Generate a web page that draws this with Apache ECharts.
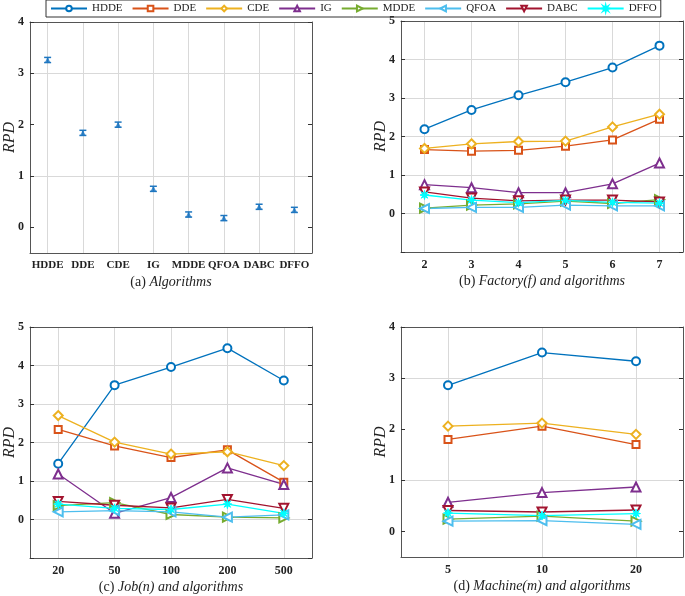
<!DOCTYPE html>
<html>
<head>
<meta charset="utf-8">
<script src="https://cdn.jsdelivr.net/npm/echarts@6/dist/echarts.min.js"></script>
<style>
  html, body { margin: 0; padding: 0; background: #fff; }
  #chart { width: 685px; height: 596px; }
</style>
</head>
<body>
<div id="chart"></div>
<script>
// algorithm names (legend + panel a)
const algNames = ['HDDE', 'DDE', 'CDE', 'IG', 'MDDE', 'QFOA', 'DABC', 'DFFO'];

// (a) mean RPD with interval half-width
const algMean = [3.26, 1.84, 2.00, 0.75, 0.25, 0.18, 0.40, 0.34];
const algErr = [0.05, 0.05, 0.05, 0.05, 0.05, 0.05, 0.05, 0.05];

// (b) factory count
const factoryCats = ['2', '3', '4', '5', '6', '7'];
const factHDDE = [2.19, 2.69, 3.07, 3.41, 3.79, 4.36];
const factDDE  = [1.66, 1.62, 1.64, 1.75, 1.91, 2.45];
const factCDE  = [1.69, 1.81, 1.87, 1.88, 2.25, 2.58];
const factIG   = [0.75, 0.67, 0.54, 0.54, 0.77, 1.31];
const factMDDE = [0.14, 0.22, 0.25, 0.32, 0.26, 0.36];
const factQFOA = [0.13, 0.16, 0.16, 0.22, 0.20, 0.20];
const factDABC = [0.56, 0.40, 0.33, 0.35, 0.35, 0.30];
const factDFFO = [0.48, 0.35, 0.28, 0.34, 0.29, 0.27];

// (c) job count
const jobCats = ['20', '50', '100', '200', '500'];
const jobHDDE = [1.45, 3.49, 3.96, 4.45, 3.61];
const jobDDE  = [2.34, 1.91, 1.61, 1.81, 0.97];
const jobCDE  = [2.70, 2.01, 1.70, 1.76, 1.40];
const jobIG   = [1.18, 0.16, 0.57, 1.34, 0.91];
const jobMDDE = [0.36, 0.44, 0.13, 0.06, 0.04];
const jobQFOA = [0.20, 0.23, 0.20, 0.06, 0.12];
const jobDABC = [0.47, 0.37, 0.30, 0.52, 0.29];
const jobDFFO = [0.40, 0.29, 0.26, 0.40, 0.16];

// (d) machine count
const machCats = ['5', '10', '20'];
const machHDDE = [2.86, 3.50, 3.33];
const machDDE  = [1.80, 2.06, 1.70];
const machCDE  = [2.06, 2.12, 1.90];
const machIG   = [0.57, 0.76, 0.87];
const machMDDE = [0.24, 0.30, 0.20];
const machQFOA = [0.20, 0.21, 0.14];
const machDABC = [0.41, 0.38, 0.42];
const machDFFO = [0.36, 0.31, 0.35];

// tick labels
const ticksA = [0, 1, 2, 3, 4];
const ticksD = [0, 1, 2, 3, 4];

// styles (MATLAB default order)
const colors = ['#0072BD', '#D95319', '#EDB120', '#7E2F8E', '#77AC30', '#4DBEEE', '#A2142F', '#00FFFF'];
const starPath = 'path://M0,-10L1.5,-3.6L7.1,-7.1L3.6,-1.5L10,0L3.6,1.5L7.1,7.1L1.5,3.6L0,10L-1.5,3.6L-7.1,7.1L-3.6,1.5L-10,0L-3.6,-1.5L-7.1,-7.1L-1.5,-3.6Z';
const symbols = ['emptyCircle', 'emptyRect', 'emptyDiamond', 'emptyTriangle', 'emptyTriangle', 'emptyTriangle', 'emptyTriangle', starPath];
const rotates = [0, 0, 0, 0, -90, 90, 180, 0];
const sizes = [8, 7, 9, 9, 9, 9, 9, 9];

const FONT = 'Liberation Serif';
const AX = '#555555';
const GRIDC = '#d9d9d9';
const NONE = 'rgba(0,0,0,0)';

const grids = [
  { left: 30, top: 22, width: 282, height: 231, outerBoundsMode: 'none' },
  { left: 401, top: 21, width: 282, height: 231, outerBoundsMode: 'none' },
  { left: 30, top: 327, width: 282, height: 231, outerBoundsMode: 'none' },
  { left: 401, top: 327, width: 282, height: 230, outerBoundsMode: 'none' }
];

const xNames = [
  '{n|(a) }{i|Algorithms}',
  '{n|(b) }{i|Factory(f) and algorithms}',
  '{n|(c) }{i|Job(n) and algorithms}',
  '{n|(d) }{i|Machine(m) and algorithms}'
];
const xCats = [algNames, factoryCats, jobCats, machCats];
const xFont = [11, 12, 12, 12];
// y setup: [min, max, interval, tick values or null]
const ySetup = [[-0.5, 4, 0.5, ticksA], [-1, 5, 1, null], [-1, 5, 1, null], [-0.5, 4, 0.5, ticksD]];

const intLabel = v => (v >= 0 && Math.abs(v - Math.round(v)) < 1e-9) ? String(Math.round(v)) : '';

const xAxes = [];
const yAxes = [];
for (let i = 0; i < 4; i++) {
  const ys = ySetup[i];
  const half = ys[2] === 0.5;
  xAxes.push({
    type: 'category', gridIndex: i, data: xCats[i], boundaryGap: true,
    axisLine: { onZero: false, lineStyle: { color: AX, width: 1 } },
    axisTick: { inside: true, alignWithLabel: true, length: 4, lineStyle: { color: '#333' } },
    axisLabel: { fontFamily: FONT, fontSize: xFont[i], fontWeight: 'bold', color: '#222', margin: 7, interval: 0 },
    splitLine: { show: true, alignWithLabel: true, lineStyle: { color: GRIDC } },
    name: xNames[i], nameLocation: 'middle', nameGap: 22,
    nameTextStyle: {
      fontFamily: FONT, fontSize: 14, color: '#222',
      rich: { n: { fontFamily: FONT, fontSize: 14, color: '#222' }, i: { fontFamily: FONT, fontSize: 14, fontStyle: 'italic', color: '#222' } }
    }
  });
  const yTick = { show: true, inside: true, length: 4, lineStyle: { color: '#333' } };
  if (ys[3]) yTick.customValues = ys[3];
  yAxes.push({
    type: 'value', gridIndex: i, min: ys[0], max: ys[1], interval: ys[2],
    axisLine: { show: true, onZero: false, lineStyle: { color: AX, width: 1 } },
    axisTick: yTick,
    axisLabel: { formatter: intLabel, fontFamily: FONT, fontSize: 12, fontWeight: 'bold', color: '#222', margin: 6 },
    splitLine: { show: true, lineStyle: { color: half ? [NONE, GRIDC] : [GRIDC] } },
    name: 'RPD', nameLocation: 'middle', nameGap: 12, nameMoveOverlap: false,
    nameTextStyle: { fontFamily: FONT, fontSize: 16, fontStyle: 'italic', color: '#222' }
  });
}
// mirrored box axes (top / right) with inward ticks
for (let i = 0; i < 4; i++) {
  const ys = ySetup[i];
  const yTick = { show: true, inside: true, length: 4, lineStyle: { color: '#333' } };
  if (ys[3]) yTick.customValues = ys[3];
  xAxes.push({
    type: 'category', gridIndex: i, data: xCats[i], boundaryGap: true, position: 'top',
    axisLine: { onZero: false, lineStyle: { color: AX, width: 1 } },
    axisTick: { inside: true, alignWithLabel: true, length: 4, lineStyle: { color: '#333' } },
    axisLabel: { show: false }, splitLine: { show: false }
  });
  yAxes.push({
    type: 'value', gridIndex: i, min: ys[0], max: ys[1], interval: ys[2], position: 'right',
    axisLine: { show: true, onZero: false, lineStyle: { color: AX, width: 1 } },
    axisTick: yTick,
    axisLabel: { show: false }, splitLine: { show: false }
  });
}

const series = [];

// (a) interval plot
series.push({
  name: 'interval', type: 'custom', xAxisIndex: 0, yAxisIndex: 0,
  data: algMean.map((m, k) => [k, m - algErr[k], m + algErr[k]]),
  renderItem(params, api) {
    const k = api.value(0);
    const top = api.coord([k, api.value(2)]);
    const bot = api.coord([k, api.value(1)]);
    const w = 3.5;
    const st = { stroke: '#1f77c0', lineWidth: 1.5 };
    return {
      type: 'group', children: [
        { type: 'line', shape: { x1: top[0], y1: top[1], x2: bot[0], y2: bot[1] }, style: st },
        { type: 'line', shape: { x1: top[0] - w, y1: top[1], x2: top[0] + w, y2: top[1] }, style: st },
        { type: 'line', shape: { x1: bot[0] - w, y1: bot[1], x2: bot[0] + w, y2: bot[1] }, style: st }
      ]
    };
  },
  z: 3
});
series.push({
  name: 'mean', type: 'scatter', xAxisIndex: 0, yAxisIndex: 0,
  data: algMean, symbol: 'triangle', symbolSize: 6,
  itemStyle: { color: '#1f77c0' }, z: 4
});

function addLines(gi, arrays) {
  arrays.forEach((arr, k) => {
    series.push({
      name: algNames[k], type: 'line', xAxisIndex: gi, yAxisIndex: gi,
      data: arr, symbol: symbols[k], symbolSize: sizes[k], symbolRotate: rotates[k],
      showAllSymbol: true,
      lineStyle: { color: colors[k], width: 1.3 },
      itemStyle: { color: colors[k], borderColor: colors[k], borderWidth: 1 },
      emphasis: { disabled: true }
    });
  });
}
addLines(1, [factHDDE, factDDE, factCDE, factIG, factMDDE, factQFOA, factDABC, factDFFO]);
addLines(2, [jobHDDE, jobDDE, jobCDE, jobIG, jobMDDE, jobQFOA, jobDABC, jobDFFO]);
addLines(3, [machHDDE, machDDE, machCDE, machIG, machMDDE, machQFOA, machDABC, machDFFO]);

const chart = echarts.init(document.getElementById('chart'), null, { renderer: 'canvas' });
chart.setOption({
  animation: false,
  backgroundColor: '#fff',
  legend: {
    data: algNames, top: 0, left: 46,
    borderColor: '#333', borderWidth: 1, padding: [3, 4, 3, 4],
    itemWidth: 36, itemHeight: 7, itemGap: 9,
    textStyle: { fontFamily: FONT, fontSize: 11, color: '#222' }
  },
  grid: grids,
  xAxis: xAxes,
  yAxis: yAxes,
  series: series
});
</script>
</body>
</html>
